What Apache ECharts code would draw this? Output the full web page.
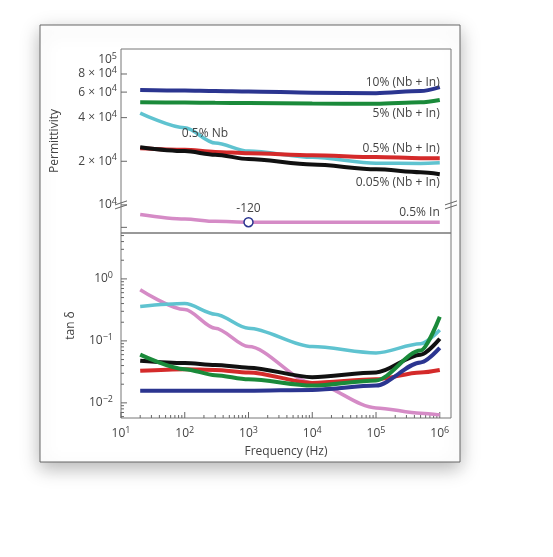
<!DOCTYPE html>
<html><head><meta charset="utf-8">
<script src="https://cdn.jsdelivr.net/npm/echarts@6/dist/echarts.min.js"></script>
<style>html,body{margin:0;padding:0;background:#fff}#c{width:553px;height:557px}</style>
</head><body><div id="c"></div>
<script>
// Frequencies (Hz)
const freq = [20, 100, 300, 1000, 10000, 100000, 500000, 1000000];
// Permittivity (top panel)
const permBlue  = [62000, 61500, 61000, 60500, 59500, 59000, 61000, 65000];
const permGreen = [51000, 50800, 50600, 50500, 50000, 49800, 51000, 53000];
const permCyan  = [43000, 34000, 26700, 23500, 21300, 19400, 19300, 19500];
const permRed   = [24600, 24000, 23200, 22700, 22000, 21400, 21000, 21000];
const permBlack = [25000, 23500, 22200, 20700, 19000, 17600, 16800, 16300];
const permPink  = [8600, 8000, 7700, 7600, 7600, 7600, 7600, 7600];
// tan delta (bottom panel)
const tanPink  = [0.67, 0.32, 0.16, 0.081, 0.021, 0.0083, 0.0068, 0.0064];
const tanCyan  = [0.36, 0.40, 0.27, 0.16, 0.081, 0.064, 0.09, 0.15];
const tanBlack = [0.048, 0.044, 0.041, 0.037, 0.026, 0.031, 0.06, 0.108];
const tanRed   = [0.033, 0.035, 0.034, 0.031, 0.021, 0.024, 0.031, 0.034];
const tanGreen = [0.06, 0.035, 0.028, 0.024, 0.019, 0.023, 0.07, 0.246];
const tanBlue  = [0.0157, 0.0157, 0.0157, 0.0157, 0.0162, 0.019, 0.045, 0.077];
const permTicks = [100000, 80000, 60000, 40000, 20000, 10000];
const permTickLabels = ['10^5', '8 × 10^4', '6 × 10^4', '4 × 10^4', '2 × 10^4', '10^4'];
const seriesLabels = ['10% (Nb + In)', '5% (Nb + In)', '0.5% Nb', '0.5% (Nb + In)', '0.05% (Nb + In)', '0.5% In'];

const C = {blue:'#2b3590', green:'#1a8a3a', cyan:'#5fc3d0', red:'#d42a2a', black:'#111', pink:'#d58bc6'};
const F = 'Open Sans, Liberation Sans, sans-serif';
const zip = a => freq.map((f,i)=>[f,a[i]]);
const mk = (d,c,gi,w)=>({type:'line',data:zip(d),xAxisIndex:gi,yAxisIndex:gi,smooth:0.3,smoothMonotone:'x',symbol:'none',lineStyle:{color:c,width:w||4},z:3});
const sup = s => { const m = s.match(/^(.*?)10\^(\d+)$/); return m ? m[1]+'10{s|'+m[2]+'}' : s; };
const rich = {s:{fontSize:9,verticalAlign:'top',padding:[0,0,7,0],fontFamily:F,color:'#444'}};
const isDec = v => Math.abs(Math.log10(v)-Math.round(Math.log10(v)))<0.01;

const chart = echarts.init(document.getElementById('c'));
const L=121, R=553-451;
chart.setOption({
  animation:false,
  graphic:[{type:'rect',shape:{x:40,y:25,width:420,height:437},style:{fill:'#fff',shadowBlur:18,shadowColor:'rgba(0,0,0,0.3)',shadowOffsetY:6},z:-10}],
  grid:[{left:L,right:R,top:49,height:184,show:true,borderColor:'#777',borderWidth:1},
        {left:L,right:R,top:233,height:185,show:true,borderColor:'#777',borderWidth:1}],
  xAxis:[{type:'log',gridIndex:0,min:10,max:1.5e6,axisLine:{show:false},axisTick:{show:false},axisLabel:{show:false},splitLine:{show:false}},
         {type:'log',gridIndex:1,min:10,max:1.5e6,axisLine:{show:false},axisTick:{show:false},splitLine:{show:false},
          axisLabel:{color:'#444',fontFamily:F,fontSize:12,rich,formatter:v=>{const e=Math.round(Math.log10(v));return (isDec(v)&&e>=1&&e<=6)?'10{s|'+e+'}':'';}},
          name:'Frequency (Hz)',nameLocation:'middle',nameGap:28,nameTextStyle:{color:'#444',fontFamily:F,fontSize:12}}],
  yAxis:[{type:'log',gridIndex:0,min:6400,max:119000,axisLine:{show:false},axisTick:{show:false},axisLabel:{show:false},splitLine:{show:false},
          name:'Permittivity',nameLocation:'middle',nameGap:60,nameTextStyle:{color:'#444',fontFamily:F,fontSize:12}},
         {type:'log',gridIndex:1,min:0.0057,max:5.5,axisLine:{show:false},axisTick:{show:false},splitLine:{show:false},
          axisLabel:{color:'#444',fontFamily:F,fontSize:12,rich,formatter:v=>{const e=Math.round(Math.log10(v));return (isDec(v)&&e>=-2&&e<=0)?'10{s|'+(e<0?'−'+(-e):e)+'}':'';}},
          name:'tan δ',nameLocation:'middle',nameGap:44,nameTextStyle:{color:'#444',fontFamily:F,fontSize:12}}],
  series:[
    mk(permBlue,C.blue,0), mk(permGreen,C.green,0), mk(permCyan,C.cyan,0,3.5), mk(permRed,C.red,0), mk(permBlack,C.black,0),
    Object.assign(mk(permPink,C.pink,0,3.5),{markPoint:{symbol:'circle',symbolSize:9,itemStyle:{color:'#fff',borderColor:'#2b3590',borderWidth:1.5},
      data:[{coord:[1000,7600],label:{show:true,position:'top',formatter:'-120',color:'#444',fontFamily:F,fontSize:12,distance:2}}]}}),
    mk(tanPink,C.pink,1,3.5), mk(tanCyan,C.cyan,1,3.5), mk(tanBlack,C.black,1), mk(tanRed,C.red,1), mk(tanGreen,C.green,1), mk(tanBlue,C.blue,1)
  ]
});
const g=[];
const px=(gi,x,y)=>chart.convertToPixel({gridIndex:gi},[x,y]);
permTicks.forEach((v,i)=>{const p=px(0,10,v);
  g.push({type:'line',shape:{x1:p[0],y1:p[1],x2:p[0]+6,y2:p[1]},style:{stroke:'#666'}});
  g.push({type:'text',x:p[0]-4,y:p[1],style:{text:sup(permTickLabels[i]),rich,align:'right',verticalAlign:'middle',fill:'#444',font:'12px '+F}});
});
{const p=px(0,10,7000); g.push({type:'line',shape:{x1:p[0],y1:p[1],x2:p[0]+6,y2:p[1]},style:{stroke:'#666'}});}
[[10,1e4],[1.5e6,1e4]].forEach(([x,y])=>{const p=px(0,x,y);
  [-2,2].forEach(o=>g.push({type:'line',shape:{x1:p[0]-6,y1:p[1]+o+2,x2:p[0]+6,y2:p[1]+o-2},style:{stroke:'#666'},z:10}));});
for(let e=1;e<=6;e++)for(let k=1;k<=9;k++){const f=k*Math.pow(10,e);if(f>1.5e6)break;const p=px(1,f,0.0057);
  g.push({type:'line',shape:{x1:p[0],y1:p[1],x2:p[0],y2:p[1]-(k===1?6:3)},style:{stroke:'#666'}});}
for(let e=-3;e<=0;e++)for(let k=1;k<=9;k++){const v=k*Math.pow(10,e);if(v<0.0057||v>5.5)continue;const p=px(1,10,v);
  g.push({type:'line',shape:{x1:p[0],y1:p[1],x2:p[0]+(k===1?6:3),y2:p[1]},style:{stroke:'#666'}});}
const lab=[[seriesLabels[0],1e6,70000,'right'],[seriesLabels[1],1e6,43000,'right'],[seriesLabels[2],90,31000,'left'],
  [seriesLabels[3],1e6,24500,'right'],[seriesLabels[4],1e6,14300,'right'],[seriesLabels[5],1e6,8800,'right']];
lab.forEach(([t,x,y,a])=>{const p=px(0,x,y);g.push({type:'text',x:p[0],y:p[1],style:{text:t,align:a,verticalAlign:'middle',fill:'#444',font:'12px '+F},z:10});});
chart.setOption({graphic:g.map(o=>Object.assign({silent:true},o))});
</script></body></html>
